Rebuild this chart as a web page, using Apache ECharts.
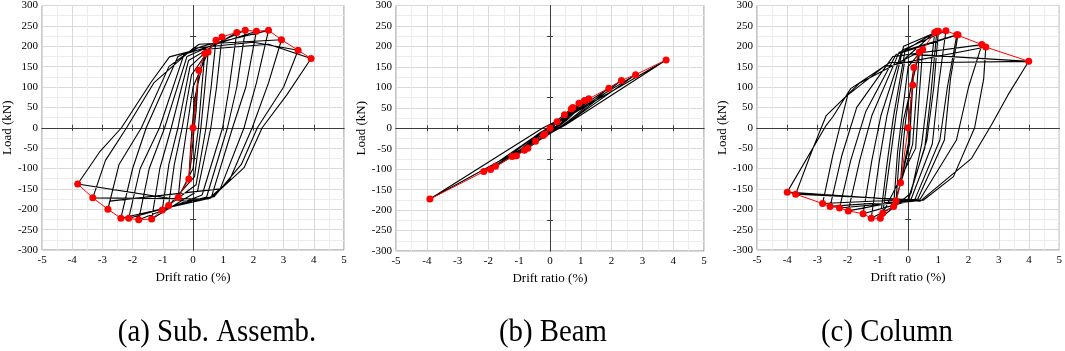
<!DOCTYPE html>
<html>
<head>
<meta charset="utf-8">
<script src="https://cdn.jsdelivr.net/npm/echarts@6/dist/echarts.min.js"></script>
<style>
html,body{margin:0;padding:0;background:#fff;}
#chart{width:1065px;height:351px;}
</style>
</head>
<body>
<div id="chart"></div>
<script>
// ---- tick labels / captions ----
const captions = ['(a) Sub. Assemb.', '(b) Beam', '(c) Column'];
const xName = 'Drift ratio (%)';
const yName = 'Load (kN)';
const xZeroTicks = [-4, -3, -2, -1, 1, 2, 3, 4];
const yZeroTicks = [-225, -75, 75, 225];

// ---- (a) Sub-assemblage: hysteresis (drift %, load kN) ----
const loopA = [
  [0,0],
  [0.19,141],[0.1,40],[0.04,0],[-0.06,-80],[-0.14,-126],[-0.08,-50],[-0.03,0],[0.05,70],
  [0.39,182],[0.28,90],[0.18,0],[0.0,-100],[-0.49,-171],[-0.38,-90],[-0.2,0],[0.0,100],
  [0.5,186],[0.38,90],[0.26,0],[0.05,-120],[-0.81,-191],[-0.62,-90],[-0.36,0],[-0.05,130],
  [0.76,215],[0.6,100],[0.43,0],[0.1,-140],[-1.02,-202],[-0.8,-90],[-0.5,0],[-0.1,150],
  [0.96,223],[0.78,100],[0.59,0],[0.15,-155],[-1.37,-224],[-1.1,-100],[-0.72,0],[-0.15,165],
  [1.45,234],[1.2,100],[0.98,0],[0.3,-165],[-1.8,-226],[-1.45,-100],[-0.94,0],[-0.2,175],
  [1.73,239],[1.45,100],[1.14,0],[0.45,-170],[-2.13,-222],[-1.75,-100],[-1.11,0],[-0.3,180],
  [2.1,237],[1.75,100],[1.31,0],[0.6,-172],[-2.39,-222],[-2.0,-100],[-1.55,0],[-0.5,175],[0.3,200],
  [2.5,239],[2.1,110],[1.69,0],[0.9,-150],[-2.76,-180],[-2.82,-200],[-2.45,-90],[-1.71,0],[-0.8,150],[0.2,205],
  [2.93,216],[2.5,110],[1.96,0],[1.2,-130],[0.5,-175],[-3.32,-172],[-2.9,-80],[-2.2,0],[-1.3,110],[0.0,195],[2.0,210],
  [3.48,190],[3.0,100],[2.13,0],[1.6,-90],[0.7,-169],[-0.2,-180],[-3.82,-138],[-3.1,-60],[-2.37,0],[-1.38,113],[-0.78,174],[0.04,190],[2.5,205],
  [3.91,170],[3.1,80],[2.29,0],[1.69,-98],[0.65,-169],[0,-180]
];
const envA = [
  [-3.82,-138],[-3.32,-172],[-2.82,-200],[-2.39,-222],[-2.13,-222],[-1.8,-226],[-1.37,-224],
  [-1.02,-202],[-0.81,-191],[-0.49,-171],[-0.14,-126],[0,0],[0.19,141],[0.39,182],[0.5,186],
  [0.76,215],[0.96,223],[1.45,234],[1.73,239],[2.1,237],[2.5,239],[2.93,216],[3.48,190],[3.91,170]
];

// ---- (b) Beam ----
const loopB = [
  [0,0],
  [0.23,16],[0.1,2],[-0.17,-14],[-0.05,-2],
  [0.47,33],[0.25,8],[0,-5],[-0.22,-18],[-0.08,-3],
  [0.69,47],[0.35,12],[0,-8],[-0.47,-32],[-0.2,-8],
  [0.74,51],[0.38,14],[0,-10],[-0.72,-49],[-0.3,-12],
  [0.94,61],[0.45,18],[-0.05,-12],[-0.83,-54],[-0.35,-15],
  [1.12,68],[0.5,20],[-0.1,-15],[-1.09,-67],[-0.4,-18],
  [1.26,72],[0.55,20],[-0.1,-16],[-1.23,-69],[-0.45,-20],
  [1.91,98],[0.6,18],[-0.1,-18],[-1.77,-93],[-0.4,-15],
  [2.32,117],[0.6,15],[-0.15,-20],[-1.93,-101],[-0.35,-12],
  [2.78,131],[0.6,15],[-0.2,-22],[-2.15,-106],[-0.3,-10],
  [3.77,167],[0.5,8],[-3.9,-173],[-0.25,0],[0.8,40]
];
const envB = [
  [-3.9,-173],[-2.15,-106],[-1.93,-101],[-1.77,-93],[-1.23,-69],[-1.09,-67],[-0.83,-54],
  [-0.72,-49],[-0.47,-32],[-0.22,-18],[-0.17,-14],[0,0],[0.23,16],[0.47,33],[0.69,47],
  [0.74,51],[0.94,61],[1.12,68],[1.26,72],[1.91,98],[2.32,117],[2.78,131],[3.77,167]
];

// ---- (c) Column ----
const loopC = [
  [0,0],
  [0.15,105],[0.08,20],[0.03,-30],[-0.25,-135],[-0.15,-30],[-0.08,20],
  [0.19,148],[0.1,40],[0.05,-40],[-0.4,-180],[-0.28,-60],[-0.15,20],
  [0.37,185],[0.25,60],[0.15,-40],[-0.48,-193],[-0.35,-60],[-0.2,30],[0.0,150],
  [0.48,192],[0.35,60],[0.25,-50],[-0.84,-210],[-0.6,-80],[-0.4,30],[-0.1,170],
  [0.88,234],[0.65,80],[0.45,-40],[0.1,-160],[-0.92,-222],[-0.7,-90],[-0.5,20],[-0.1,190],
  [0.95,237],[0.75,80],[0.55,-50],[0.0,-175],[-1.22,-222],[-0.95,-80],[-0.7,30],[-0.15,200],
  [1.0,237],[0.85,100],[0.62,-30],[0.0,-180],[-1.49,-211],[-1.2,-80],[-0.9,30],[-0.2,190],
  [1.25,238],[1.0,100],[0.8,-40],[0.1,-175],[-1.98,-204],[-1.6,-80],[-1.2,30],[-0.3,185],
  [1.61,228],[1.3,100],[1.05,-30],[0.2,-180],[-2.27,-197],[-1.9,-80],[-1.4,40],[-0.4,180],
  [1.65,228],[1.4,120],[1.2,-30],[0.3,-178],[-2.58,-193],[-2.2,-70],[-1.7,50],[-0.5,175],
  [2.44,204],[2.0,100],[1.6,-30],[0.4,-175],[-2.83,-186],[-2.5,-70],[-2.0,80],[-0.8,150],
  [2.57,198],[2.5,120],[2.2,0],[1.5,-120],[0.5,-178],[-3.72,-163],[-3.2,-60],[-2.71,30],[-1.6,110],[0.2,180],
  [3.99,163],[3.3,80],[2.75,6],[2.1,-75],[0.4,-180],[-4.0,-158],[-2.71,6],[-2.49,27],[-1.9,96],[-0.6,160],[1.0,160],[3.99,163]
];
const envC = [
  [-4.0,-158],[-3.72,-163],[-2.83,-186],[-2.58,-193],[-2.27,-197],[-1.98,-204],[-1.49,-211],
  [-1.22,-222],[-0.92,-222],[-0.84,-210],[-0.48,-193],[-0.4,-180],[-0.25,-135],[0,0],
  [0.15,105],[0.19,148],[0.37,185],[0.48,192],[0.88,234],[0.95,237],[1.0,237],[1.25,238],
  [1.61,228],[1.65,228],[2.44,204],[2.57,198],[3.99,163]
];

const loops = [loopA, loopB, loopC];
const envs = [envA, envB, envC];

// ---- layout ----
const grids = [
  {left: 40, top: 5, width: 304, height: 245},
  {left: 396, top: 5, width: 308, height: 246},
  {left: 757, top: 5, width: 305, height: 245}
];
const captionX = [217, 553, 887];
const FONT = '"Liberation Serif", "Times New Roman", serif';
const zeroColor = '#3c3c3c';

const xAxes = [], yAxes = [], series = [];
grids.forEach((g, i) => {
  xAxes.push({
    gridIndex: i, type: 'value', min: -5, max: 5, interval: 1, position: 'bottom',
    axisLine: {show: false, onZero: false}, axisTick: {show: false},
    axisLabel: {fontFamily: FONT, fontSize: 11, color: '#000', margin: 5},
    splitLine: {show: true, lineStyle: {color: '#d9d9d9', width: 1}},
    minorTick: {show: false, splitNumber: 2},
    minorSplitLine: {show: true, lineStyle: {color: '#ececec', width: 1}},
    name: xName, nameLocation: 'middle', nameGap: 19,
    nameTextStyle: {fontFamily: FONT, fontSize: 13, color: '#000'}
  });
  [true, false].forEach(inside => {
    xAxes.push({
      gridIndex: i, type: 'value', min: -5, max: 5, interval: 1,
      axisLine: {show: true, onZero: true, lineStyle: {color: zeroColor, width: 1}},
      axisTick: {show: true, inside: inside, length: 3, customValues: xZeroTicks, lineStyle: {color: zeroColor}},
      axisLabel: {show: false}, splitLine: {show: false}
    });
  });
  yAxes.push({
    gridIndex: i, type: 'value', min: -300, max: 300, interval: 50, position: 'left',
    axisLine: {show: false, onZero: false}, axisTick: {show: false},
    axisLabel: {fontFamily: FONT, fontSize: 11, color: '#000', margin: 4},
    splitLine: {show: true, lineStyle: {color: '#d9d9d9', width: 1}},
    minorTick: {show: false, splitNumber: 2},
    minorSplitLine: {show: true, lineStyle: {color: '#ececec', width: 1}},
    name: yName, nameLocation: 'middle', nameGap: 26, nameRotate: 90,
    nameTextStyle: {fontFamily: FONT, fontSize: 13, color: '#000'}
  });
  [true, false].forEach(inside => {
    yAxes.push({
      gridIndex: i, type: 'value', min: -300, max: 300, interval: 150,
      axisLine: {show: true, onZero: true, lineStyle: {color: zeroColor, width: 1}},
      axisTick: {show: true, inside: inside, length: 3, customValues: yZeroTicks, lineStyle: {color: zeroColor}},
      axisLabel: {show: false}, splitLine: {show: false}
    });
  });
  series.push({
    type: 'line', xAxisIndex: 3 * i, yAxisIndex: 3 * i, data: loops[i],
    symbol: 'none', showSymbol: false, z: 3,
    lineStyle: {color: '#000', width: 1.1}
  });
  series.push({
    type: 'line', xAxisIndex: 3 * i, yAxisIndex: 3 * i, data: envs[i],
    symbol: 'circle', symbolSize: 7, showSymbol: true, z: 4,
    itemStyle: {color: '#ff0000'},
    lineStyle: {color: '#ff0000', width: 1}
  });
});

const chart = echarts.init(document.getElementById('chart'), null, {renderer: 'canvas'});
chart.setOption({
  animation: false,
  backgroundColor: '#fff',
  grid: grids.map(g => Object.assign({show: true, borderColor: '#8a8a8a', borderWidth: 1, backgroundColor: 'transparent'}, g)),
  xAxis: xAxes,
  yAxis: yAxes,
  series: series,
  graphic: captions.map((t, i) => ({
    type: 'text', x: captionX[i], y: 333, z: 10, scaleX: 0.9,
    style: {text: t, font: '32px ' + FONT, fill: '#000', align: 'center', verticalAlign: 'middle', textAlign: 'center', textVerticalAlign: 'middle'}
  }))
});
</script>
</body>
</html>
